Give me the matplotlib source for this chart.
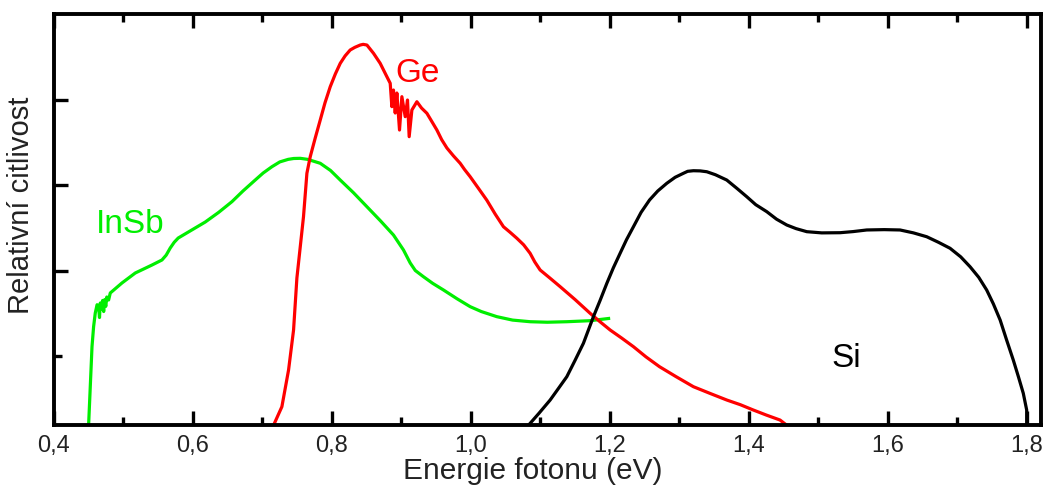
import matplotlib
matplotlib.use("Agg")
import matplotlib.pyplot as plt
from matplotlib.ticker import FixedLocator

plt.rcParams['font.family'] = ['Liberation Sans', 'DejaVu Sans']

# ---- data (arbitrary y units) ----
insb_x = [0.4498, 0.4547, 0.457, 0.4594, 0.462, 0.4642, 0.4655, 0.4666, 0.468, 0.470, 0.4715,
          0.473, 0.4745, 0.476, 0.4786, 0.481, 0.4978, 0.517, 0.541, 0.5554, 0.5615, 0.5673,
          0.573, 0.5788, 0.6177, 0.637, 0.6561, 0.672, 0.6896, 0.701, 0.7137, 0.725, 0.7371,
          0.745, 0.7544, 0.765, 0.7832, 0.798, 0.812, 0.831, 0.8504, 0.870, 0.8886, 0.903,
          0.9127, 0.92, 0.9318, 0.945, 0.9606, 0.98, 0.999, 1.015, 1.0374, 1.06, 1.0853,
          1.11, 1.1381, 1.1717, 1.2005]
insb_y = [0.19, 1.109, 1.343, 1.503, 1.60, 1.577, 1.45, 1.62, 1.55, 1.65, 1.52,
          1.66, 1.58, 1.69, 1.655, 1.737, 1.854, 1.971, 2.064, 2.123, 2.18, 2.263,
          2.33, 2.380, 2.567, 2.68, 2.805, 2.93, 3.058, 3.14, 3.214, 3.27, 3.300,
          3.31, 3.312, 3.30, 3.254, 3.17, 3.058, 2.91, 2.746, 2.58, 2.415, 2.240,
          2.088, 2.00, 1.927, 1.85, 1.772, 1.67, 1.577, 1.52, 1.460, 1.42, 1.401,
          1.395, 1.401, 1.413, 1.441]

ge_x = [0.716, 0.728, 0.7376, 0.7448, 0.7496, 0.7591, 0.764, 0.7688, 0.776, 0.7832, 0.790,
        0.7976, 0.805, 0.812, 0.819, 0.8263, 0.833, 0.8407, 0.845, 0.8504, 0.8599, 0.8695,
        0.8791, 0.8839, 0.8863, 0.8886, 0.8911, 0.8935, 0.8973, 0.9007, 0.9055, 0.9088,
        0.9112, 0.9151, 0.9223, 0.929, 0.9367, 0.944, 0.9511, 0.958, 0.9655, 0.975, 0.9846,
        0.991, 0.999, 1.011, 1.023, 1.035, 1.0469, 1.056, 1.0662, 1.076, 1.0853, 1.092,
        1.0997, 1.114, 1.1285, 1.15, 1.1717, 1.186, 1.2005, 1.217, 1.234, 1.252, 1.2715,
        1.295, 1.3203, 1.345, 1.3684, 1.388, 1.4066, 1.425, 1.445, 1.4547]
ge_y = [0.19, 0.407, 0.836, 1.304, 1.912, 2.629, 3.137, 3.331, 3.55, 3.760, 3.96,
        4.150, 4.30, 4.423, 4.51, 4.579, 4.61, 4.637, 4.645, 4.637, 4.540, 4.423,
        4.267, 4.190, 3.916, 4.111, 3.842, 4.076, 3.643, 4.033, 3.799, 3.994,
        3.565, 3.877, 3.974, 3.90, 3.839, 3.74, 3.643, 3.53, 3.433, 3.34, 3.254,
        3.18, 3.097, 2.96, 2.822, 2.66, 2.512, 2.45, 2.377, 2.30, 2.201, 2.10,
        2.006, 1.91, 1.811, 1.66, 1.499, 1.40, 1.304, 1.21, 1.109, 0.99, 0.875,
        0.76, 0.641, 0.56, 0.485, 0.43, 0.368, 0.31, 0.251, 0.19]

si_x = [1.0829, 1.098, 1.1141, 1.126, 1.1381, 1.150, 1.162, 1.1764, 1.186, 1.1957, 1.205,
        1.2148, 1.224, 1.234, 1.245, 1.2572, 1.269, 1.282, 1.294, 1.3059, 1.312, 1.3203,
        1.330, 1.3396, 1.352, 1.3683, 1.383, 1.3971, 1.41, 1.4259, 1.44, 1.4547, 1.468,
        1.4835, 1.505, 1.5314, 1.55, 1.5698, 1.595, 1.6177, 1.637, 1.6561, 1.673, 1.6897,
        1.705, 1.7185, 1.731, 1.7424, 1.752, 1.7618, 1.771, 1.7807, 1.788, 1.7951, 1.80, 1.80]
si_y = [0.19, 0.33, 0.485, 0.62, 0.758, 0.95, 1.149, 1.46, 1.65, 1.850, 2.03,
        2.201, 2.36, 2.512, 2.68, 2.825, 2.93, 3.020, 3.09, 3.137, 3.16, 3.167,
        3.165, 3.155, 3.12, 3.058, 2.96, 2.863, 2.77, 2.688, 2.60, 2.532, 2.49,
        2.454, 2.44, 2.442, 2.455, 2.474, 2.478, 2.474, 2.44, 2.395, 2.33, 2.260,
        2.16, 2.044, 1.92, 1.772, 1.61, 1.421, 1.19, 0.953, 0.76, 0.564, 0.368, 0.19]

xtick_vals = [0.4, 0.6, 0.8, 1.0, 1.2, 1.4, 1.6, 1.8]
xtick_labels = ["0,4", "0,6", "0,8", "1,0", "1,2", "1,4", "1,6", "1,8"]
xminor_vals = [0.5, 0.7, 0.9, 1.1, 1.3, 1.5, 1.7]
ytick_major = [2, 3, 4]
ytick_minor = [1]

curve_labels = ["InSb", "Ge", "Si"]
curve_colors = ["#00ee00", "#ff0000", "#000000"]
label_pos = [(0.51, 2.44), (0.9234, 4.21), (1.5396, 0.875)]

# ---- figure ----
fig = plt.figure(figsize=(10.44, 4.88), dpi=100)
ax = fig.add_axes([54 / 1044, 1 - 425 / 488, 987 / 1044, 411 / 488])

for xs, ys, c in zip([insb_x, ge_x, si_x], [insb_y, ge_y, si_y], curve_colors):
    ax.plot(xs, ys, color=c, lw=2.3, solid_joinstyle='round', solid_capstyle='butt')

for (lx, ly), name, c in zip(label_pos, curve_labels, curve_colors):
    ax.text(lx, ly, name, color=c, fontsize=24, ha='center', va='baseline')

ax.set_xlim(0.4, 1.8206)
ax.set_ylim(0.193, 5.0)

ax.xaxis.set_major_locator(FixedLocator(xtick_vals))
ax.set_xticklabels(xtick_labels)
ax.xaxis.set_minor_locator(FixedLocator(xminor_vals))
ax.yaxis.set_major_locator(FixedLocator(ytick_major))
ax.yaxis.set_minor_locator(FixedLocator(ytick_minor))
ax.set_yticklabels([])

ax.tick_params(axis='both', which='major', direction='in', length=10, width=2.4,
               labelsize=17, pad=7, labelcolor='#222222')
ax.tick_params(axis='both', which='minor', direction='in', length=5.5, width=2.4)
ax.tick_params(axis='x', which='both', top=True, bottom=True)
ax.tick_params(axis='y', which='both', left=True, right=False)

for s in ax.spines.values():
    s.set_linewidth(2.8)

ax.set_xlabel("Energie fotonu (eV)", fontsize=21.5, va='top', color='#222222')
ax.xaxis.set_label_coords(0.485, -0.078)
ax.set_ylabel("Relativní citlivost", fontsize=21, va='center', color='#222222')
ax.yaxis.set_label_coords(-0.033, 0.535)

fig.savefig("out.png", dpi=100)
